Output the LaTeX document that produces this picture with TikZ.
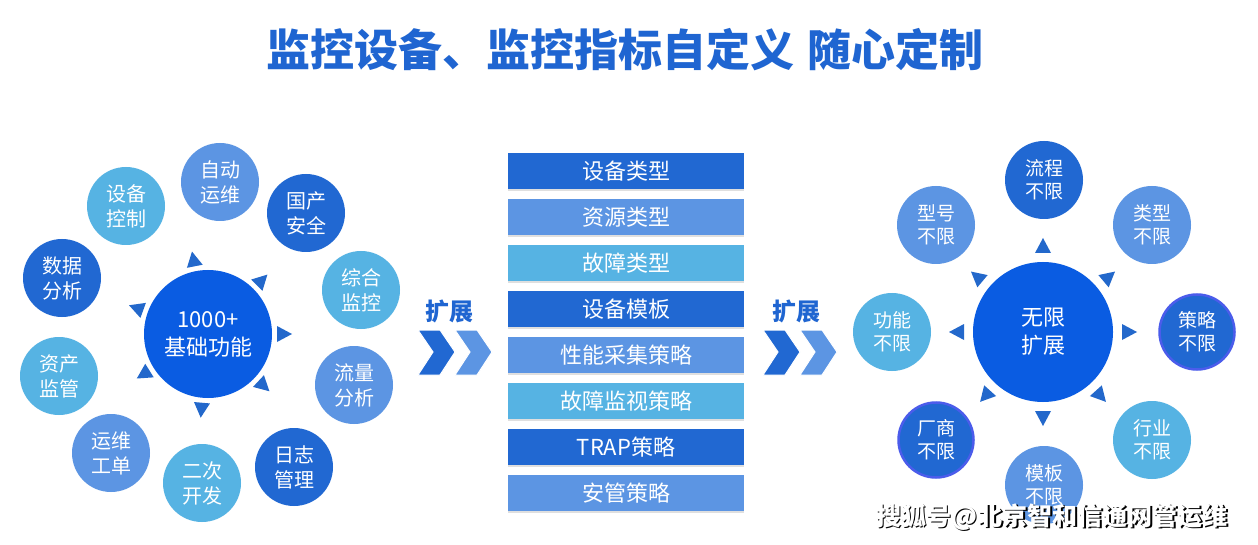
\documentclass[tikz,border=0pt]{standalone}
\usepackage{fontspec}
\setmainfont{Noto Sans CJK SC}
\usetikzlibrary{shadows}
\definecolor{hubblue}{HTML}{0A5CE2}
\definecolor{darkblue}{HTML}{2168D2}
\definecolor{midblue}{HTML}{5C95E3}
\definecolor{lightblue}{HTML}{56B3E3}
\definecolor{ringblue}{HTML}{4B5CEB}
\definecolor{titleblue}{HTML}{1F65D1}
\definecolor{tipblue}{HTML}{2368CB}
\tikzset{
satnode/.style={circle,minimum size=78pt,inner sep=0pt,align=center,text=white,
  font=\fontsize{20}{25}\selectfont},
satdark/.style={satnode,fill=darkblue},
satmid/.style={satnode,fill=midblue},
satlight/.style={satnode,fill=lightblue},
satring/.style={satnode,fill=darkblue,draw=ringblue,line width=2.5pt,minimum size=75pt},
hubnode/.style={circle,fill=hubblue,inner sep=0pt,align=center,text=white,
  font=\fontsize{22}{28}\selectfont},
barnode/.style={rectangle,minimum width=236pt,minimum height=36pt,inner sep=0pt,
  text=white,font=\fontsize{22}{24}\selectfont,
  drop shadow={shadow xshift=0pt,shadow yshift=-2pt,opacity=0.25}},
bardark/.style={barnode,fill=darkblue},
barmid/.style={barnode,fill=midblue},
barlight/.style={barnode,fill=lightblue},
extlabel/.style={text=titleblue,font=\fontsize{24}{24}\selectfont\bfseries},
chevfill/.style={draw=white,line width=1pt},
tipfill/.style={fill=tipblue}
}
\begin{document}
\begin{tikzpicture}[x=1pt,y=-1pt]
\useasboundingbox (0,0) rectangle (1258,545);
\fill[white] (0,0) rectangle (1258,545);
\node[text=titleblue,font=\fontsize{44}{44}\selectfont\bfseries] (title) at (625,50) {监控设备、监控指标自定义\hspace{14pt}随心定制};
% left: basic functions
\node[hubnode,minimum size=128pt] (hubL) at (208,334) {1000+\\基础功能};
\node[satmid] (zdyw) at (220,182) {自动\\运维};
\node[satdark] (gcaq) at (306,213) {国产\\安全};
\node[satlight] (zhjk) at (361,290) {综合\\监控};
\node[satmid] (llfx) at (354,385) {流量\\分析};
\node[satdark] (rzgl) at (294,467) {日志\\管理};
\node[satlight] (ecfz) at (202,483) {二次\\开发};
\node[satmid] (ywgd) at (111,453) {运维\\工单};
\node[satlight] (zcjg) at (59,376) {资产\\监管};
\node[satdark] (sjfx) at (62,278) {数据\\分析};
\node[satlight] (sbkz) at (126,206) {设备\\控制};
\foreach \a in {101,45,0,-43,-95,212,160}
  \fill[tipfill,shift={(hubL.center)},rotate=\a] (69,8) -- (84,0) -- (69,-8) -- cycle;
% first expansion
\node[extlabel] (extL) at (449,311) {扩展};
\foreach \x/\c in {418/darkblue,455/midblue}
  \fill[chevfill,fill=\c] (\x,330) -- (\x+22,330) -- (\x+37,352) -- (\x+22,375) -- (\x,375) -- (\x+15,352) -- cycle;
% middle column
\foreach \i/\s/\t in {0/bardark/设备类型,1/barmid/资源类型,2/barlight/故障类型,3/bardark/设备模板,
  4/barmid/性能采集策略,5/barlight/故障监视策略,6/bardark/TRAP策略,7/barmid/安管策略}
  \node[\s] (bar\i) at (626,{171+46*\i}) {\t};
% second expansion
\node[extlabel] (extR) at (796,311) {扩展};
\foreach \x/\c in {763/darkblue,800/midblue}
  \fill[chevfill,fill=\c] (\x,330) -- (\x+22,330) -- (\x+37,352) -- (\x+22,375) -- (\x,375) -- (\x+15,352) -- cycle;
% right: unlimited
\node[hubnode,minimum size=140pt] (hubR) at (1043,332) {无限\\扩展};
\tikzset{rs/.style={font=\fontsize{19}{23}\selectfont}}
\node[satdark,rs] (lcbx) at (1044,180) {流程\\不限};
\node[satmid,rs] (lxbx) at (1152,225) {类型\\不限};
\node[satring,rs] (clbx) at (1197,332) {策略\\不限};
\node[satlight,rs] (hybx) at (1152,440) {行业\\不限};
\node[satmid,rs] (mbbx) at (1044,485) {模板\\不限};
\node[satring,rs] (csbx) at (936,440) {厂商\\不限};
\node[satlight,rs] (gnbx) at (892,332) {功能\\不限};
\node[satmid,rs] (xhbx) at (936,225) {型号\\不限};
\foreach \a in {90,40,0,-48,-90,-132,180,140}
  \fill[tipfill,shift={(hubR.center)},rotate=\a] (79,8) -- (94,0) -- (79,-8) -- cycle;
% source mark
\node[text=black,font=\fontsize{25}{25}\selectfont\bfseries] (sohushade) at (1053.5,518.5) {搜狐号@北京智和信通网管运维};
\node[text=white,font=\fontsize{25}{25}\selectfont\bfseries] (sohu) at (1052,517) {搜狐号@北京智和信通网管运维};
\end{tikzpicture}
\end{document}
